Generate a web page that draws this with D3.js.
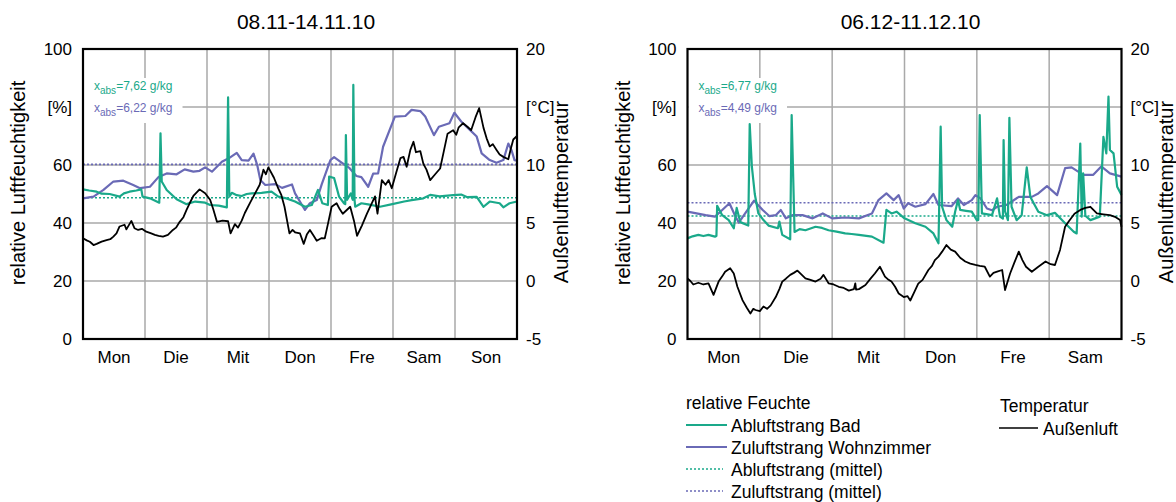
<!DOCTYPE html>
<html>
<head>
<meta charset="utf-8">
<script src="https://cdn.jsdelivr.net/npm/d3@7"></script>
<style>
  body { margin: 0; background: #fff; }
  text { font-family: "Liberation Sans", Arial, sans-serif; fill: #000; }
</style>
</head>
<body>
<script>

// ---- data (time in days from Monday 0:00, rel. humidity in %, temperature in °C)
var titles = ["08.11-14.11.10", "06.12-11.12.10"];
var days1 = ["Mon", "Die", "Mit", "Don", "Fre", "Sam", "Son"];
var days2 = ["Mon", "Die", "Mit", "Don", "Fre", "Sam"];

var abluft1 = [[0,51.6],[0.1,51.2],[0.22,50.8],[0.3,50.1],[0.43,50],[0.59,49.1],[0.66,50.2],[0.75,50.8],[0.86,51.2],[0.94,51.6],[0.96,49.1],[1.08,48.5],[1.23,47],[1.25,70.9],[1.27,54.3],[1.35,51.4],[1.51,48.2],[1.67,46.5],[1.81,47.4],[1.97,47],[2.05,46.2],[2.19,46],[2.32,45.4],[2.34,83.3],[2.36,49.1],[2.4,50.4],[2.48,49.6],[2.56,49.3],[2.64,50],[2.72,50.2],[2.88,50.4],[3.04,50.8],[3.15,49.1],[3.28,48.5],[3.42,47.4],[3.58,45.6],[3.69,46.2],[3.79,51.4],[3.86,46.8],[3.95,46.2],[3.97,56],[4.05,55.5],[4.13,49.1],[4.21,46.8],[4.23,46.5],[4.24,70.3],[4.26,48],[4.32,50.2],[4.35,48],[4.36,87.6],[4.38,48],[4.39,45.6],[4.49,46.8],[4.6,46.4],[4.79,45.6],[4.97,46.4],[5.18,47.4],[5.3,47.9],[5.49,48.5],[5.6,49.7],[5.75,49.2],[5.97,49.6],[6.1,49.8],[6.2,48.9],[6.35,49],[6.46,45.6],[6.56,47.4],[6.72,46.8],[6.78,45.4],[6.88,46.8],[7,47.4]];
var zuluft1 = [[0,48.5],[0.17,49.1],[0.33,51.4],[0.49,54.3],[0.65,54.6],[0.81,53.1],[0.92,52],[1.08,52.5],[1.22,55.9],[1.35,57.1],[1.51,56.8],[1.64,58.5],[1.78,57.7],[1.88,58],[1.97,59.2],[2.08,57.7],[2.24,61.1],[2.35,62.3],[2.48,64.2],[2.56,61.7],[2.67,61.5],[2.75,63.9],[2.81,60],[2.86,54.8],[2.94,53.1],[3.1,53.4],[3.21,52.1],[3.37,53.3],[3.42,50.2],[3.58,44.5],[3.66,46.8],[3.77,47.9],[3.85,53.3],[3.99,61.7],[4.05,62.7],[4.16,61],[4.3,58.9],[4.41,56.2],[4.49,55.8],[4.6,52.5],[4.68,57],[4.76,57.1],[4.84,66.3],[5.03,76.7],[5.2,76.9],[5.3,79],[5.44,78.6],[5.52,76.7],[5.66,70.3],[5.74,73.2],[5.91,74.4],[5.99,78],[6.1,75],[6.24,72.1],[6.35,69.8],[6.43,64],[6.56,61.7],[6.67,60.8],[6.78,61.7],[6.86,67.4],[6.91,65.2],[6.96,61.7],[7,61.5]];
var temp1 = [[0,3.68],[0.06,3.5],[0.11,3.38],[0.17,3.1],[0.22,3.2],[0.3,3.4],[0.38,3.53],[0.44,3.6],[0.49,3.83],[0.54,4.1],[0.59,4.7],[0.67,4.85],[0.7,4.45],[0.78,5.18],[0.83,4.55],[0.89,4.4],[0.95,4.5],[1.02,4.25],[1.1,4.1],[1.16,3.98],[1.22,3.9],[1.29,3.83],[1.37,3.98],[1.45,4.4],[1.5,4.6],[1.56,5.1],[1.62,5.5],[1.67,6.13],[1.72,6.7],[1.78,7.33],[1.88,7.9],[1.97,7.56],[2.05,7.0],[2.1,6.2],[2.16,5.1],[2.25,5.2],[2.34,5.15],[2.38,4.1],[2.45,4.9],[2.5,4.6],[2.56,5.2],[2.61,5.86],[2.7,6.8],[2.78,7.6],[2.85,8.3],[2.91,9.6],[2.95,9.2],[2.99,9.8],[3.08,8.9],[3.14,8.1],[3.2,7.4],[3.25,6.4],[3.33,4.1],[3.38,4.4],[3.42,4.2],[3.5,4.1],[3.56,3.2],[3.61,4.0],[3.66,4.4],[3.72,3.9],[3.77,3.47],[3.85,3.7],[3.9,3.68],[3.95,4.9],[4.01,6.4],[4.09,6.7],[4.14,6.2],[4.19,5.8],[4.25,6.1],[4.31,6.4],[4.37,5.2],[4.42,3.9],[4.5,4.8],[4.58,5.8],[4.65,6.6],[4.71,7.3],[4.73,6.5],[4.75,5.8],[4.82,8.7],[4.88,8.3],[4.93,8.7],[4.98,8.0],[5.05,9.3],[5.12,10.6],[5.17,10.7],[5.22,9.85],[5.28,11.3],[5.33,12],[5.37,11.1],[5.44,11.2],[5.49,10.1],[5.54,9.6],[5.6,8.7],[5.68,9.2],[5.76,9.7],[5.82,11.2],[5.88,12.7],[5.97,13.0],[6.02,12.6],[6.06,13.25],[6.13,13.6],[6.2,13.3],[6.26,13.0],[6.33,14.1],[6.39,14.9],[6.46,13.2],[6.51,12.3],[6.56,11.6],[6.61,11.8],[6.67,11.3],[6.72,10.9],[6.78,10.7],[6.86,10.5],[6.9,11.4],[6.94,12.2],[7,12.5]];

var abluft2 = [[0,34.7],[0.07,35.4],[0.15,35.9],[0.22,35.5],[0.29,35.9],[0.38,35.3],[0.4,35.5],[0.41,45.9],[0.48,42.7],[0.57,41],[0.64,38.2],[0.68,45.2],[0.73,40.3],[0.84,39.1],[0.86,74.1],[0.89,59.4],[0.93,50],[0.98,43.3],[1.05,41],[1.12,39.1],[1.25,38.2],[1.27,40.5],[1.31,35.9],[1.42,34.4],[1.44,77.2],[1.48,36.9],[1.55,37.9],[1.63,37.5],[1.77,38.7],[1.86,38.3],[1.95,37.5],[2.06,37],[2.18,36.4],[2.27,36.2],[2.37,35.9],[2.55,35.3],[2.71,33.2],[2.75,44.5],[2.82,43.3],[2.89,43.9],[3.0,41.6],[3.15,39.9],[3.29,38.7],[3.4,36.4],[3.47,33],[3.5,73.2],[3.52,45.6],[3.58,41],[3.66,38.7],[3.7,43.9],[3.74,47.9],[3.77,44.5],[3.85,44.2],[3.93,43.9],[4.0,41],[4.02,41],[4.04,77.2],[4.07,43.3],[4.21,42.7],[4.28,48.5],[4.32,42.2],[4.36,41.5],[4.37,68.6],[4.39,44],[4.43,41],[4.45,76.3],[4.48,45.6],[4.55,41],[4.62,42.7],[4.69,59.2],[4.74,49],[4.85,43.9],[4.97,42.7],[5.08,43.5],[5.22,39.9],[5.34,37],[5.38,36.4],[5.43,67.4],[5.45,42.2],[5.47,57.1],[5.5,42.5],[5.57,41],[5.7,42.2],[5.75,69.7],[5.79,64],[5.82,83.6],[5.84,65.2],[5.89,64],[5.94,52.5],[6,49.7]];
var zuluft2 = [[0,43.9],[0.25,42.7],[0.38,42.2],[0.48,44.5],[0.58,46.8],[0.66,42.4],[0.71,40.1],[0.78,42.7],[0.92,47.7],[1.04,44.5],[1.13,42.4],[1.22,42.7],[1.29,44.5],[1.36,41.6],[1.45,42.7],[1.59,42.7],[1.73,41.6],[1.87,43.3],[2.0,41.6],[2.18,41.9],[2.37,41.6],[2.55,43.3],[2.64,47.9],[2.75,50.2],[2.85,47.9],[2.92,49.6],[2.99,45],[3.05,46.8],[3.15,45.6],[3.29,46.5],[3.4,50],[3.47,46.2],[3.65,45.8],[3.74,48.5],[3.82,46.2],[3.93,47.9],[3.98,49.6],[4.05,48.5],[4.14,45],[4.21,44.4],[4.28,45.6],[4.41,46.2],[4.58,49],[4.76,49],[4.85,50.2],[4.97,52.7],[5.11,49.6],[5.22,58.9],[5.31,59.2],[5.47,56.6],[5.61,56.6],[5.72,59.5],[5.84,57.1],[6,56]];
var temp2 = [[0,0.23],[0.04,0.0],[0.08,-0.3],[0.15,-0.15],[0.22,-0.3],[0.29,-0.2],[0.36,-1.2],[0.43,-0.05],[0.48,0.4],[0.52,0.8],[0.59,1.1],[0.64,0.65],[0.69,-0.5],[0.76,-1.65],[0.82,-2.3],[0.87,-2.8],[0.91,-2.4],[0.94,-2.5],[1.0,-2.6],[1.05,-2.2],[1.1,-2.4],[1.15,-2.1],[1.22,-1.38],[1.27,-0.7],[1.31,-0.05],[1.36,0.2],[1.42,0.53],[1.47,0.7],[1.52,0.9],[1.57,0.6],[1.63,0.23],[1.7,0.1],[1.77,-0.05],[1.84,0.2],[1.88,0.53],[1.95,-0.2],[2.02,-0.3],[2.09,-0.5],[2.16,-0.6],[2.23,-0.83],[2.3,-0.7],[2.32,-0.2],[2.33,-0.75],[2.37,-0.7],[2.46,-0.35],[2.53,0.2],[2.59,0.65],[2.66,1.23],[2.73,0.38],[2.78,0.1],[2.82,-0.05],[2.87,-0.5],[2.92,-1.08],[2.99,-1.38],[3.04,-1.3],[3.08,-1.68],[3.14,-0.9],[3.19,-0.23],[3.25,0.1],[3.33,0.95],[3.38,1.3],[3.42,1.8],[3.47,2.1],[3.52,2.53],[3.58,3.1],[3.64,2.7],[3.7,2.53],[3.77,2.0],[3.84,1.68],[3.91,1.5],[3.98,1.38],[4.04,1.3],[4.11,1.23],[4.18,0.38],[4.23,0.7],[4.28,0.8],[4.35,0.95],[4.39,-0.78],[4.46,0.65],[4.52,1.6],[4.58,2.53],[4.63,1.8],[4.68,1.23],[4.76,0.8],[4.85,1.23],[4.95,1.68],[5.02,1.45],[5.08,1.38],[5.15,2.68],[5.22,4.68],[5.27,5.13],[5.35,5.8],[5.43,6.13],[5.5,6.3],[5.57,6.4],[5.66,5.83],[5.75,5.75],[5.84,5.68],[5.92,5.5],[5.98,5.25],[6,4.68]];

var meanAbluft = [48.7, 42.4];
var meanZuluft = [60.2, 47.0];
var xabsAbluft = ["7,62", "6,77"];
var xabsZuluft = ["6,22", "4,49"];

var rhTicks = [0, 20, 40, 60, 80, 100];
var tTicks = [-5, 0, 5, 10, 15, 20];

var legendRh = ["Abluftstrang Bad", "Zuluftstrang Wohnzimmer", "Abluftstrang (mittel)", "Zuluftstrang (mittel)"];
var legendT = ["Außenluft"];

// ---- layout
var green = "#1aa98a",
    purple = "#6a6ab6",
    gridCol = "#a9a9a9",
    plotTop = 49, plotBottom = 339;

var svg = d3.select("body").append("svg")
    .attr("width", 1176)
    .attr("height", 502);

var panels = [
  {x0: 83, x1: 517, title: titles[0], days: days1, ab: abluft1, zu: zuluft1, t: temp1, i: 0},
  {x0: 687.5, x1: 1121.5, title: titles[1], days: days2, ab: abluft2, zu: zuluft2, t: temp2, i: 1}
];

panels.forEach(function(p) {
  var x = d3.scaleLinear().domain([0, p.days.length]).range([p.x0, p.x1]);
  var xb = d3.scaleBand().domain(p.days).range([p.x0, p.x1]);
  var yRh = d3.scaleLinear().domain([0, 100]).range([plotBottom, plotTop]);
  var yT = d3.scaleLinear().domain([-5, 20]).range([plotBottom, plotTop]);

  var g = svg.append("g");

  // grid
  g.selectAll(".hgrid").data([20, 40, 60, 80]).enter().append("line")
      .attr("x1", p.x0).attr("x2", p.x1)
      .attr("y1", yRh).attr("y2", yRh)
      .attr("stroke", gridCol).attr("stroke-width", 1.5);
  g.selectAll(".vgrid").data(d3.range(1, p.days.length)).enter().append("line")
      .attr("x1", x).attr("x2", x)
      .attr("y1", plotTop).attr("y2", plotBottom)
      .attr("stroke", gridCol).attr("stroke-width", 1.5);

  // x_abs notes with white box behind
  var note = g.append("g");
  var bx = p.x0 + 11;
  [[xabsAbluft[p.i], green, 90], [xabsZuluft[p.i], purple, 112]].forEach(function(n) {
    var t = note.append("text").attr("x", bx).attr("y", n[2])
        .style("font-size", "12px").style("fill", n[1]);
    t.append("tspan").text("x");
    t.append("tspan").attr("dy", 4).style("font-size", "10px").text("abs");
    t.append("tspan").attr("dy", -4).text("=" + n[0] + " g/kg");
  });
  var bb = note.node().getBBox();
  note.insert("rect", "text")
      .attr("x", p.x0 + 1).attr("y", bb.y - 1)
      .attr("width", bb.x + bb.width + 10 - p.x0 - 1)
      .attr("height", bb.height + 6)
      .attr("fill", "#fff");

  // mean lines
  [[meanAbluft[p.i], green], [meanZuluft[p.i], purple]].forEach(function(m) {
    g.append("line")
        .attr("x1", p.x0).attr("x2", p.x1)
        .attr("y1", yRh(m[0])).attr("y2", yRh(m[0]))
        .attr("stroke", m[1]).attr("stroke-width", 1.6)
        .attr("stroke-dasharray", "2,2");
  });

  var lineRh = d3.line().x(function(d) { return x(d[0]); }).y(function(d) { return yRh(d[1]); });
  var lineT = d3.line().x(function(d) { return x(d[0]); }).y(function(d) { return yT(d[1]); });

  g.append("path").datum(p.zu).attr("d", lineRh)
      .attr("fill", "none").attr("stroke", purple).attr("stroke-width", 2.2).attr("stroke-linejoin", "round");
  g.append("path").datum(p.ab).attr("d", lineRh)
      .attr("fill", "none").attr("stroke", green).attr("stroke-width", 2.2).attr("stroke-linejoin", "round");
  g.append("path").datum(p.t).attr("d", lineT)
      .attr("fill", "none").attr("stroke", "#000").attr("stroke-width", 1.8).attr("stroke-linejoin", "round");

  // frame
  g.append("rect")
      .attr("x", p.x0).attr("y", plotTop)
      .attr("width", p.x1 - p.x0).attr("height", plotBottom - plotTop)
      .attr("fill", "none").attr("stroke", "#000").attr("stroke-width", 2.2);

  // axes
  var ax = g.append("g").attr("transform", "translate(" + p.x0 + ",0)")
      .call(d3.axisLeft(yRh).tickValues(rhTicks).tickSize(0).tickPadding(11)
        .tickFormat(function(d) { return d === 80 ? "[%]" : d; }));
  var axr = g.append("g").attr("transform", "translate(" + p.x1 + ",0)")
      .call(d3.axisRight(yT).tickValues(tTicks).tickSize(0).tickPadding(9)
        .tickFormat(function(d) { return d === 15 ? "[°C]" : d; }));
  var axb = g.append("g").attr("transform", "translate(0," + plotBottom + ")")
      .call(d3.axisBottom(xb).tickSize(0).tickPadding(12));
  [ax, axr, axb].forEach(function(a) {
    a.select(".domain").remove();
    a.selectAll("text").style("font-size", "17px").attr("fill", "#000")
      .style("font-family", '"Liberation Sans", Arial, sans-serif');
  });

  // titles
  g.append("text")
      .attr("x", (p.x0 + p.x1) / 2 + 6).attr("y", 29)
      .attr("text-anchor", "middle").style("font-size", "21px")
      .text(p.title);
  g.append("text")
      .attr("transform", "translate(" + (p.x0 - 65) + ",183) rotate(-90)")
      .attr("text-anchor", "middle").attr("dy", "0.35em").style("font-size", "20px")
      .text("relative Luftfeuchtigkeit");
  g.append("text")
      .attr("transform", "translate(" + (p.x1 + 44) + ",192) rotate(-90)")
      .attr("text-anchor", "middle").attr("dy", "0.35em").style("font-size", "20px")
      .text("Außenlufttemperatur");
});

// ---- legend
var lg = svg.append("g");
var legStyles = [[green, null], [purple, null], [green, "2,2"], [purple, "2,2"]];
lg.append("text").attr("x", 686).attr("y", 409).style("font-size", "17.5px").text("relative Feuchte");
legendRh.forEach(function(name, i) {
  var y = 425 + i * 22;
  lg.append("line")
      .attr("x1", 686).attr("x2", legStyles[i][1] ? 723 : 727)
      .attr("y1", y).attr("y2", y)
      .attr("stroke", legStyles[i][0])
      .attr("stroke-width", legStyles[i][1] ? 1.4 : 2)
      .attr("stroke-dasharray", legStyles[i][1]);
  lg.append("text").attr("x", 731).attr("y", y + 7).style("font-size", "17.5px").text(name);
});
lg.append("text").attr("x", 1000).attr("y", 412).style("font-size", "17.5px").text("Temperatur");
legendT.forEach(function(name, i) {
  var y = 428 + i * 22;
  lg.append("line").attr("x1", 999).attr("x2", 1038).attr("y1", y).attr("y2", y)
      .attr("stroke", "#000").attr("stroke-width", 1.5);
  lg.append("text").attr("x", 1043).attr("y", y + 7).style("font-size", "17.5px").text(name);
});

</script>
</body>
</html>
